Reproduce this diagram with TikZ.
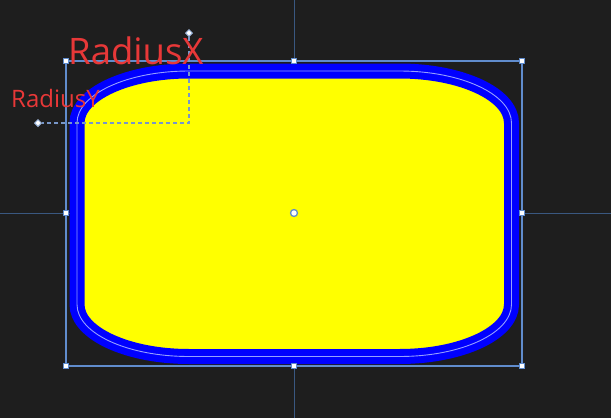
\documentclass[tikz,border=0pt]{standalone}
\usepackage{fontspec}
\setmainfont{Open Sans}
\usetikzlibrary{shapes.geometric}
\definecolor{bg}{RGB}{30,30,30}
\definecolor{cross}{RGB}{58,88,128}
\definecolor{sel}{RGB}{96,140,205}
\definecolor{dashc}{RGB}{120,150,200}
\definecolor{shapeblue}{RGB}{0,0,255}
\definecolor{thinline}{RGB}{150,160,255}
\definecolor{fillyel}{RGB}{255,255,0}
\definecolor{lbl}{RGB}{232,56,56}
\tikzset{
  handle/.style={draw=sel,fill=white,line width=1.2pt,minimum size=5pt,inner sep=0pt,rectangle},
  centerh/.style={draw=sel,fill=white,line width=1.3pt,minimum size=7pt,inner sep=0pt,circle},
  diam/.style={draw=sel!60!white,fill=white,line width=1pt,minimum size=7pt,inner sep=0pt,diamond},
  radline/.style={draw=dashc,dash pattern=on 4pt off 3pt,line width=1.1pt},
  lbltext/.style={text=lbl,inner sep=0pt,anchor=base west}
}
\begin{document}
\begin{tikzpicture}[x=1pt,y=-1pt]
\fill[bg] (0,0) rectangle (611,418);
\useasboundingbox (0,0) rectangle (611,418);
% crosshair
\draw[cross,line width=1pt] (294,0) -- (294,418);
\draw[cross,line width=1pt] (0,213) -- (611,213);
% selection box
\draw[sel,line width=1.2pt] (66,61) rectangle (522,366);
% shape (centerline rounded rectangle)
\def\shp{(189,71) -- (399.5,71) arc[start angle=-90,end angle=0,x radius=112,y radius=52] -- (511.5,304.5) arc[start angle=0,end angle=90,x radius=112,y radius=52] -- (189,356.5) arc[start angle=90,end angle=180,x radius=112,y radius=52] -- (77,123) arc[start angle=180,end angle=270,x radius=112,y radius=52] -- cycle}
\fill[fillyel] \shp;
\draw[shapeblue,line width=15pt] \shp;
\draw[thinline,line width=0.9pt] \shp;
% radius guides
\node[diam] (rx) at (189,33) {};
\node[diam] (ry) at (38,123) {};
\coordinate (rc) at (189,123);
\draw[radline] (rx) -- (rc) -- (ry);
% handles
\node[handle] (h1) at (66,61) {};
\node[handle] (h2) at (294,61) {};
\node[handle] (h3) at (522,61) {};
\node[handle] (h4) at (66,213) {};
\node[handle] (h5) at (522,213) {};
\node[handle] (h6) at (66,366) {};
\node[handle] (h7) at (294,366) {};
\node[handle] (h8) at (522,366) {};
\node[centerh] (c) at (294,213) {};
% labels
\node[lbltext,font=\fontsize{36.5}{36}\selectfont] (lx) at (68,64) {RadiusX};
\node[lbltext,font=\fontsize{24}{24}\selectfont] (ly) at (11,107) {RadiusY};
\end{tikzpicture}
\end{document}
